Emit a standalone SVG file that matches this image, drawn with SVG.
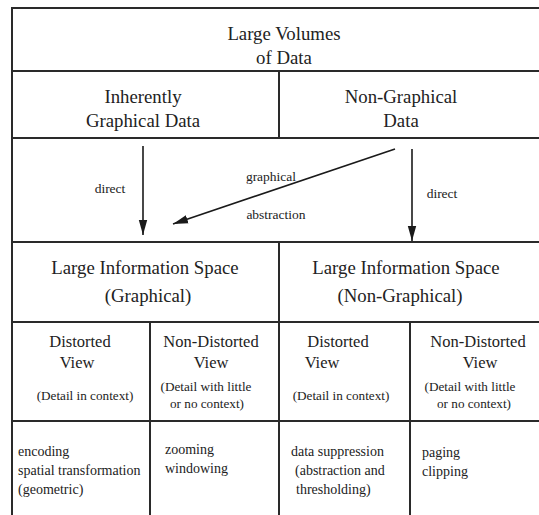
<svg xmlns="http://www.w3.org/2000/svg" width="539" height="515" viewBox="0 0 539 515">
  <style>
    .g { stroke: #2a2a2a; stroke-width: 2; fill: none; }
    text { font-family: "Liberation Serif", "Times New Roman", serif; fill: #222; }
    .big { font-size: 18.8px; text-anchor: middle; }
    .mid { font-size: 16.5px; text-anchor: middle; }
    .sm { font-size: 13.2px; text-anchor: middle; }
    .lbl { font-size: 13.5px; text-anchor: middle; }
    .lst { font-size: 14px; }
    .arr { stroke: #1a1a1a; stroke-width: 1.6; fill: none; marker-end: url(#ah); }
  </style>
  <defs>
    <marker id="ah" markerUnits="userSpaceOnUse" markerWidth="16" markerHeight="10" refX="15" refY="5" orient="auto">
      <path d="M0,0.8 L15,5 L0,9.2 Z" fill="#1a1a1a"/>
    </marker>
  </defs>
  <rect width="539" height="515" fill="#fff"/>

  <g id="grid" class="g">
    <line x1="12" y1="8" x2="539" y2="8"/>
    <line x1="12" y1="71" x2="539" y2="71"/>
    <line x1="12" y1="138" x2="539" y2="138"/>
    <line x1="12" y1="242" x2="539" y2="242"/>
    <line x1="12" y1="322" x2="539" y2="322"/>
    <line x1="12" y1="421" x2="539" y2="421"/>
    <line x1="12" y1="7" x2="12" y2="515"/>
    <line x1="279" y1="71" x2="279" y2="138"/>
    <line x1="279" y1="242" x2="279" y2="515"/>
    <line x1="150" y1="322" x2="150" y2="515"/>
    <line x1="410" y1="322" x2="410" y2="515"/>
  </g>

  <g id="large-volumes">
    <text class="big" x="284" y="40">Large Volumes</text>
    <text class="big" x="284" y="64">of Data</text>
  </g>
  <g id="inherently-graphical">
    <text class="big" x="143" y="103">Inherently</text>
    <text class="big" x="143" y="127">Graphical Data</text>
  </g>
  <g id="non-graphical-data">
    <text class="big" x="401" y="103">Non-Graphical</text>
    <text class="big" x="401" y="127">Data</text>
  </g>

  <g id="connectors">
    <line class="arr" x1="143" y1="146" x2="143" y2="235"/>
    <line class="arr" x1="412" y1="149" x2="412" y2="241"/>
    <line class="arr" x1="395" y1="149" x2="173" y2="224"/>
    <text class="lbl" x="110" y="193">direct</text>
    <text class="lbl" x="442" y="198">direct</text>
    <text class="lbl" x="271" y="181">graphical</text>
    <text class="lbl" x="276" y="219">abstraction</text>
  </g>

  <g id="info-space-graphical">
    <text class="big" x="145" y="274">Large Information Space</text>
    <text class="big" x="148" y="302">(Graphical)</text>
  </g>
  <g id="info-space-nongraphical">
    <text class="big" x="406" y="274">Large Information Space</text>
    <text class="big" x="400" y="302">(Non-Graphical)</text>
  </g>

  <g id="g-distorted">
    <text class="mid" x="80" y="347">Distorted</text>
    <text class="mid" x="77" y="368">View</text>
    <text class="sm" x="85" y="400">(Detail in context)</text>
  </g>
  <g id="g-nondistorted">
    <text class="mid" x="211" y="347">Non-Distorted</text>
    <text class="mid" x="211" y="368">View</text>
    <text class="sm" x="206" y="391">(Detail with little</text>
    <text class="sm" x="207" y="408">or no context)</text>
  </g>
  <g id="ng-distorted">
    <text class="mid" x="338" y="347">Distorted</text>
    <text class="mid" x="322" y="368">View</text>
    <text class="sm" x="341" y="400">(Detail in context)</text>
  </g>
  <g id="ng-nondistorted">
    <text class="mid" x="478" y="347">Non-Distorted</text>
    <text class="mid" x="480" y="368">View</text>
    <text class="sm" x="470" y="391">(Detail with little</text>
    <text class="sm" x="474" y="408">or no context)</text>
  </g>

  <g id="g-distorted-techniques">
    <text class="lst" x="18" y="456">encoding</text>
    <text class="lst" x="18" y="475">spatial transformation</text>
    <text class="lst" x="18" y="494">(geometric)</text>
  </g>
  <g id="g-nondistorted-techniques">
    <text class="lst" x="165" y="454">zooming</text>
    <text class="lst" x="165" y="473">windowing</text>
  </g>
  <g id="ng-distorted-techniques">
    <text class="lst" x="291" y="456">data suppression</text>
    <text class="lst" x="295" y="475">(abstraction and</text>
    <text class="lst" x="296" y="494">thresholding)</text>
  </g>
  <g id="ng-nondistorted-techniques">
    <text class="lst" x="422" y="457">paging</text>
    <text class="lst" x="422" y="476">clipping</text>
  </g>
</svg>
